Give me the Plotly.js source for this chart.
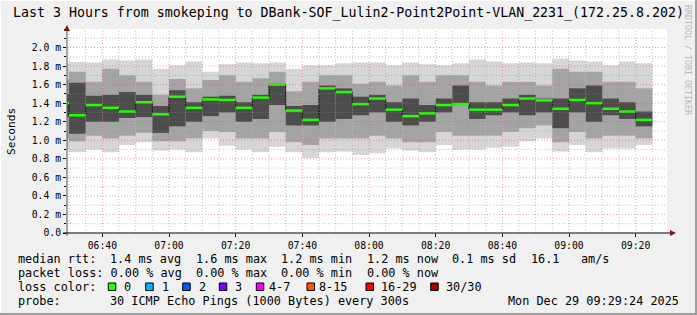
<!DOCTYPE html>
<html>
<head>
<meta charset="utf-8">
<script src="https://cdn.plot.ly/plotly-3.0.1.min.js"></script>
<style>
html,body{margin:0;padding:0;background:#f0f0f0;}
#chart{width:697px;height:315px;}
</style>
</head>
<body>
<div id="chart"></div>
<script>
// ---------- data ----------
const titleText = "Last 3 Hours from smokeping to DBank-SOF_Lulin2-Point2Point-VLAN_2231_(172.25.8.202)";
// end time of each 5-minute bin (first bin is only partly visible)
const binEnd = ["06:30","06:35","06:40","06:45","06:50","06:55","07:00","07:05","07:10","07:15",
  "07:20","07:25","07:30","07:35","07:40","07:45","07:50","07:55","08:00",
  "08:05","08:10","08:15","08:20","08:25","08:30","08:35","08:40","08:45",
  "08:50","08:55","09:00","09:05","09:10","09:15","09:20","09:25"];
// round-trip times in ms
const medianMs = [1.40, 1.27,1.38,1.35,1.31,1.41,1.28,1.47,1.35,1.44,
  1.435,1.35,1.46,1.60,1.32,1.22,1.56,1.52,1.39,
  1.45,1.33,1.26,1.29,1.38,1.39,1.33,1.33,1.38,
  1.45,1.43,1.34,1.435,1.40,1.34,1.31,1.22];
const maxMs = [1.83, 1.845,1.84,1.87,1.86,1.87,1.77,1.81,1.85,1.74,
  1.82,1.84,1.83,1.84,1.77,1.81,1.81,1.83,1.84,
  1.84,1.81,1.84,1.82,1.81,1.83,1.87,1.85,1.83,
  1.84,1.83,1.88,1.86,1.85,1.81,1.85,1.83];
const p90Ms = [1.65, 1.74,1.63,1.77,1.70,1.63,1.49,1.66,1.56,1.65,
  1.70,1.63,1.67,1.74,1.53,1.63,1.70,1.70,1.61,
  1.63,1.59,1.70,1.63,1.70,1.70,1.63,1.59,1.63,
  1.63,1.59,1.77,1.74,1.74,1.63,1.63,1.56];
const p75Ms = [1.50, 1.62,1.48,1.49,1.52,1.49,1.37,1.54,1.41,1.47,
  1.48,1.41,1.49,1.61,1.37,1.38,1.59,1.56,1.47,
  1.49,1.41,1.45,1.38,1.45,1.59,1.41,1.41,1.45,
  1.49,1.45,1.45,1.56,1.59,1.45,1.41,1.31];
const p25Ms = [1.25, 1.07,1.20,1.20,1.24,1.25,1.08,1.15,1.20,1.26,
  1.30,1.20,1.23,1.38,1.16,1.16,1.20,1.23,1.27,
  1.30,1.20,1.16,1.20,1.30,1.38,1.23,1.27,1.30,
  1.27,1.30,1.13,1.30,1.20,1.27,1.23,1.15];
const p10Ms = [1.02, 0.99,1.05,1.02,1.05,1.08,0.99,0.99,1.02,1.10,
  1.09,1.02,1.02,1.09,0.98,0.95,1.02,1.02,1.02,
  1.05,1.02,0.98,0.98,1.09,1.05,1.05,1.05,1.09,
  1.13,1.16,0.98,1.09,1.02,1.05,1.05,1.02];
const minMs = [0.90, 0.87,0.90,0.87,0.95,0.98,0.89,0.90,0.87,1.02,
  0.94,0.90,0.87,0.93,0.87,0.81,0.87,0.88,0.84,
  0.86,0.91,0.89,0.87,0.95,0.90,0.90,0.92,0.93,
  0.99,1.02,0.88,0.95,0.87,0.91,0.91,0.95];
const yTickVals = [0,0.2,0.4,0.6,0.8,1.0,1.2,1.4,1.6,1.8,2.0];
const yTickText = ["0.0","0.2 m","0.4 m","0.6 m","0.8 m","1.0 m","1.2 m","1.4 m","1.6 m","1.8 m","2.0 m"];
const xTickLabels = ["06:40","07:00","07:20","07:40","08:00","08:20","08:40","09:00","09:20"];
const lineMedian = "median rtt:  1.4 ms avg  1.6 ms max  1.2 ms min  1.2 ms now  0.1 ms sd  16.1   am/s";
const lineLoss   = "packet loss: 0.00 % avg  0.00 % max  0.00 % min  0.00 % now";
const lossLabels = ["0","1","2","3","4-7","8-15","16-29","30/30"];
const lossColors = ["#26ff00","#00b8ff","#0059ff","#7e00ff","#ff00ff","#ff5500","#ff0000","#a10000"];
const lineProbe  = "probe:       30 ICMP Echo Pings (1000 Bytes) every 300s";
const stampText  = "Mon Dec 29 09:29:24 2025";
const startStamp = [6,29,24], endStamp = [9,29,24];

// ---------- geometry / style ----------
const W=697,H=315, L=67, R=667, T=29, B=233;
const PW=R-L, PH=B-T;
const xp = px => (px-L)/PW;
const yp = py => (B-py)/PH;
const STEP = 300000;
const MONO = "DejaVu Sans Mono";
const nb = s => s.replace(/ /g,"\u00a0");
const tm = (h,m,s) => Date.UTC(2025,11,29,h,m,s||0);
const hm = str => { const a=str.split(":").map(Number); return tm(a[0],a[1],0); };

const ends = binEnd.map(hm);
const starts = ends.map(e=>e-STEP);
const centers = ends.map(e=>e-STEP/2);

function band(lo, hi, color){
  return {type:"bar", x:centers, base:lo, y:hi.map((v,i)=>v-lo[i]), width:STEP,
    marker:{color:color, line:{width:0}}, hoverinfo:"skip", showlegend:false};
}
const traces = [
  band(minMs, maxMs, "#d6d6d6"),
  band(p10Ms, p90Ms, "#a4a4a4"),
  band(p25Ms, p75Ms, "#4c4c4c")
];
// step connector (dark) + green median segments
traces.push({type:"scatter", mode:"lines", x:starts.concat([ends[ends.length-1]]),
  y:medianMs.concat([medianMs[medianMs.length-1]]), line:{shape:"hv", color:"#111", width:1}, hoverinfo:"skip"});
const gx=[], gy=[];
medianMs.forEach((m,i)=>{ gx.push(starts[i],ends[i],null); gy.push(m,m,null); });
traces.push({type:"scatter", mode:"lines", x:gx, y:gy, line:{color:"#22ff00", width:2.5}, hoverinfo:"skip", connectgaps:false});

// ---------- shapes: grid on top, axes, frame, legend swatches ----------
const shapes=[];
const GMIN="rgba(140,140,140,0.55)", GMAJ="rgba(222,80,80,0.55)";
for(let v=1; v<=21; v++){
  shapes.push({type:"line", xref:"paper", yref:"y", x0:0, x1:1, y0:v/10, y1:v/10,
    line:{color:(v%2===0)?GMAJ:GMIN, width:1, dash:"1px,2px"}, layer:"above"});
}
const T0 = tm(...startStamp), T1 = tm(...endStamp);
for(let t=hm("06:30"); t<T1; t+=STEP){
  const mins = Math.round((t - hm("06:00"))/60000);
  shapes.push({type:"line", xref:"x", yref:"paper", x0:t, x1:t, y0:0, y1:1,
    line:{color:(mins%20===0)?GMAJ:GMIN, width:1, dash:"1px,2px"}, layer:"above"});
}
// axes
shapes.push({type:"line", xref:"paper", yref:"paper", x0:0, x1:0, y0:yp(236), y1:yp(30), line:{color:"#555", width:1}, layer:"above"});
shapes.push({type:"line", xref:"paper", yref:"paper", x0:xp(63), x1:xp(671), y0:0, y1:0, line:{color:"#000", width:1}, layer:"above"});
shapes.push({type:"path", xref:"paper", yref:"paper",
  path:`M ${xp(64)} ${yp(31)} L ${xp(70)} ${yp(31)} L ${xp(67)} ${yp(25)} Z`, fillcolor:"#8b1010", line:{width:0}, layer:"above"});
shapes.push({type:"path", xref:"paper", yref:"paper",
  path:`M ${xp(670)} ${yp(230)} L ${xp(670)} ${yp(236)} L ${xp(676)} ${yp(233)} Z`, fillcolor:"#8b1010", line:{width:0}, layer:"above"});
// frame
shapes.push({type:"line", xref:"paper", yref:"paper", x0:xp(0), x1:xp(W), y0:yp(0.5), y1:yp(0.5), line:{color:"#fdfdfd", width:1}});
shapes.push({type:"line", xref:"paper", yref:"paper", x0:xp(0.5), x1:xp(0.5), y0:yp(0), y1:yp(H), line:{color:"#fdfdfd", width:1}});
shapes.push({type:"rect", xref:"paper", yref:"paper", x0:xp(W-2), x1:xp(W), y0:yp(0), y1:yp(H), fillcolor:"#9e9e9e", line:{width:0}});
shapes.push({type:"rect", xref:"paper", yref:"paper", x0:xp(0), x1:xp(W), y0:yp(H-2), y1:yp(H), fillcolor:"#9e9e9e", line:{width:0}});

// ---------- annotations ----------
const ann=[];
const txt = (s, x, y, size, opts) => Object.assign({text:nb(s), xref:"paper", yref:"paper", x:xp(x), y:yp(y),
  xanchor:"left", yanchor:"middle", showarrow:false, font:{family:MONO, size:size, color:"#000"}}, opts||{});
ann.push(txt(titleText, 348.5, 13, 13.27, {xanchor:"center"}));
ann.push(txt("Seconds", 11, 132, 11.2, {xanchor:"center", textangle:-90}));
ann.push(txt("RRDTOOL / TOBI OETIKER", 688, 60, 8.3, {xanchor:"center", textangle:90, font:{family:MONO, size:8.3, color:"#b8b8b8"}}));
const LEG=11.84, CW=7.13, X0=15.5;
// place each run of words at its character column so monospace alignment is kept
function legendLine(s, y){
  const re=/\S+(?: \S+)*/g; let m;
  while((m=re.exec(s))!==null){ ann.push(txt(m[0], X0 + m.index*CW, y, LEG)); }
}
legendLine(lineMedian, 259);
legendLine(lineLoss, 273.3);
legendLine("loss color:", 287);
legendLine(lineProbe, 301.3);
ann.push(txt(stampText, 681, 301.3, LEG, {xanchor:"right"}));
const swX = [108.3,145.7,182.7,219.3,256.3,307,366,430.7];
const lbX = [122,160,196.5,233,267,317,379,444];
lossLabels.forEach((lab,i)=>{
  shapes.push({type:"rect", xref:"paper", yref:"paper", x0:xp(swX[i]), x1:xp(swX[i]+7.5), y0:yp(290.5), y1:yp(283),
    fillcolor:lossColors[i], line:{color:"#000", width:1}});
  ann.push(txt(lab, lbX[i], 287, LEG));
});

const tickFont = {family:MONO, size:9.75, color:"#000"};
const layout = {
  width:W, height:H, margin:{l:L, r:W-R, t:T, b:H-B, pad:0},
  paper_bgcolor:"#f0f0f0", plot_bgcolor:"#ffffff",
  barmode:"overlay", showlegend:false, hovermode:false,
  xaxis:{type:"date", range:[T0,T1], tickvals:xTickLabels.map(hm), ticktext:xTickLabels,
    ticks:"outside", ticklen:3, tickcolor:"#000", showgrid:false, zeroline:false, showline:false,
    tickfont:tickFont, fixedrange:true},
  yaxis:{range:[0,2.2], tickvals:yTickVals, ticktext:yTickText, ticks:"outside", ticklen:3, tickcolor:"#000",
    showgrid:false, zeroline:false, showline:false, tickfont:tickFont, fixedrange:true,
    minor:{dtick:0.1, ticks:"outside", ticklen:2, tickcolor:"#000", showgrid:false}},
  shapes:shapes, annotations:ann
};
Plotly.newPlot("chart", traces, layout, {staticPlot:true, displayModeBar:false});
</script>
</body>
</html>
